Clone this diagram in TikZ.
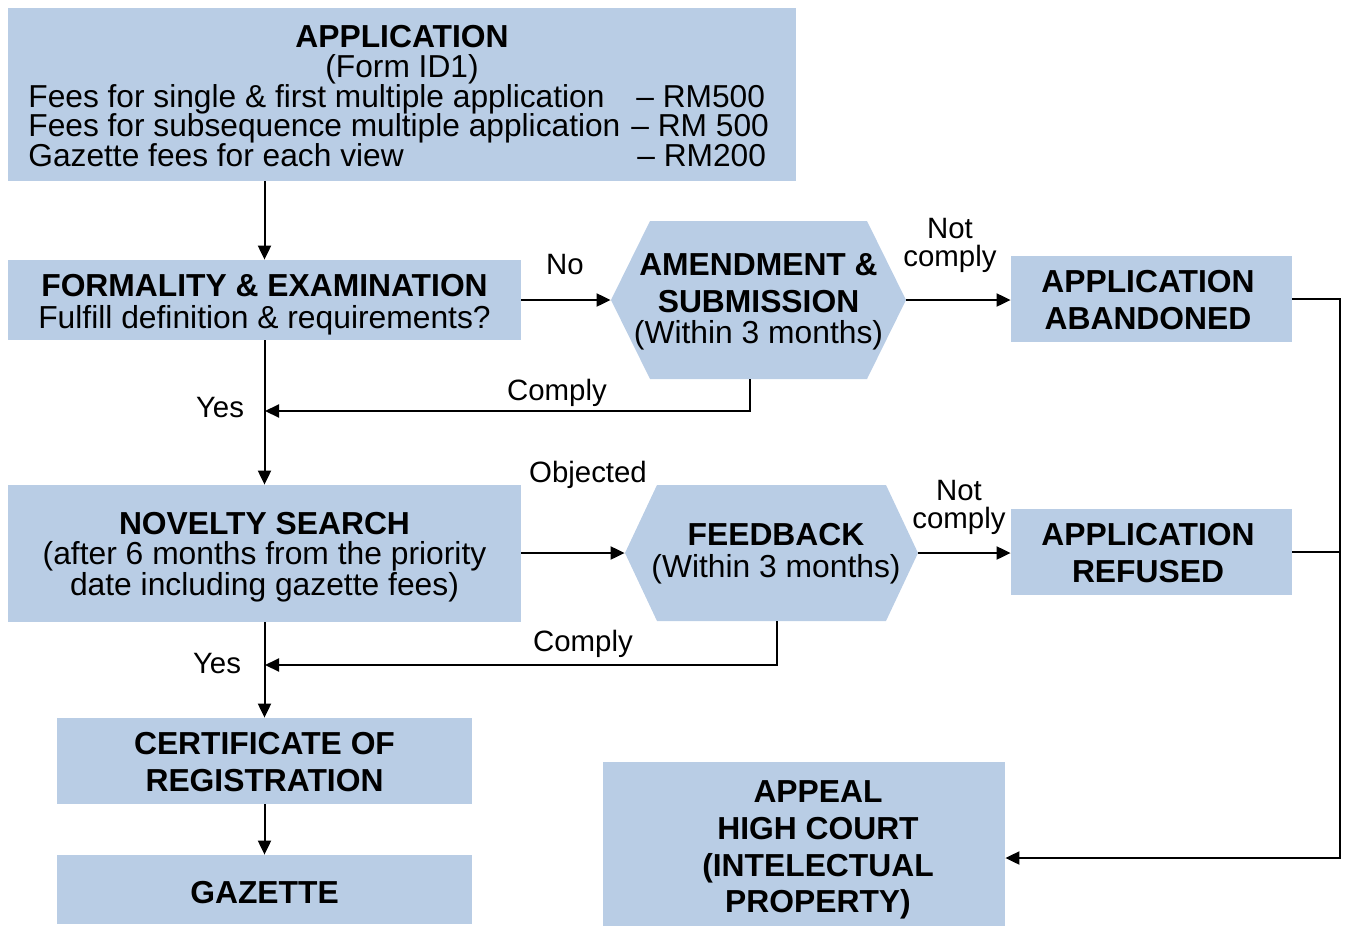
\documentclass[tikz,border=0pt]{standalone}
\usepackage{fontspec}
\setmainfont{Liberation Sans}
\usetikzlibrary{arrows.meta}
\definecolor{boxblue}{HTML}{B9CDE5}
\begin{document}
\begin{tikzpicture}[x=0.5pt,y=-0.5pt,
  box/.style={rectangle, fill=boxblue, inner sep=0pt, align=center},
  hexbox/.style={rectangle, inner sep=0pt, align=center,
    path picture={\fill[boxblue] (path picture bounding box.west)
      -- ([xshift=#1]path picture bounding box.north west)
      -- ([xshift=-#1]path picture bounding box.north east)
      -- (path picture bounding box.east)
      -- ([xshift=-#1]path picture bounding box.south east)
      -- ([xshift=#1]path picture bounding box.south west) -- cycle;}},
  txt/.style={inner sep=0pt, font=\fontsize{15.85pt}{15pt}\selectfont},
  mtxt/.style={inner sep=0pt, align=center, font=\fontsize{15.9pt}{#1}\selectfont},
  btxt/.style={inner sep=0pt, align=center, font=\fontsize{15.9pt}{#1}\selectfont\bfseries},
  lbl/.style={inner sep=0pt, align=center, font=\fontsize{14.7pt}{14pt}\selectfont},
  arr/.style={draw, line width=1pt, -{Triangle[length=7pt,width=6.5pt]}},
  ln/.style={draw, line width=1pt}
]
\useasboundingbox (0,0) rectangle (1346,927);

% APPLICATION box
\node[box, minimum width=394pt, minimum height=86.5pt] (app) at (402,94.5) {};
\node[txt, font=\fontsize{15.9pt}{15pt}\selectfont\bfseries, anchor=base] (appt) at (402,47) {APPLICATION};
\node[txt, anchor=base] (appf) at (402,77) {(Form ID1)};
\node[txt, anchor=base west] (fee1) at (28,107) {Fees for single \& first multiple application};
\node[txt, anchor=base west] (fee1r) at (636,107) {– RM500};
\node[txt, anchor=base west] (fee2) at (28,136) {Fees for subsequence multiple application};
\node[txt, anchor=base west] (fee2r) at (631,136) {– RM 500};
\node[txt, anchor=base west] (fee3) at (28,166) {Gazette fees for each view};
\node[txt, anchor=base west] (fee3r) at (637,166) {– RM200};

% FORMALITY
\node[box, minimum width=256.5pt, minimum height=40pt] (form) at (264.5,300) {};
\node[mtxt=16pt] (formt) at (264.5,305)
  {\textbf{FORMALITY \& EXAMINATION}\\Fulfill definition \& requirements?};

% AMENDMENT hexagon
\node[hexbox=19.5pt, minimum width=147.5pt, minimum height=79pt] (amend) at (758.5,300) {};
\node[mtxt=15.5pt] (amendt) at (758.5,302)
  {\textbf{AMENDMENT \&}\\[3pt]\textbf{SUBMISSION}\\(Within 3 months)};

% ABANDONED
\node[box, minimum width=140.5pt, minimum height=43pt] (aband) at (1151.5,299) {};
\node[btxt=18.5pt] (abandt) at (1148,300) {APPLICATION\\ABANDONED};

% NOVELTY
\node[box, minimum width=256.5pt, minimum height=68.5pt] (novel) at (264.5,553.5) {};
\node[mtxt=15.3pt] (novelt) at (264.5,557)
  {\textbf{NOVELTY SEARCH}\\(after 6 months from the priority\\date including gazette fees)};

% FEEDBACK hexagon
\node[hexbox=16pt, minimum width=146.5pt, minimum height=68pt] (feed) at (771.5,553) {};
\node[mtxt=16pt] (feedt) at (776,554) {\textbf{FEEDBACK}\\(Within 3 months)};

% REFUSED
\node[box, minimum width=140.5pt, minimum height=43pt] (refused) at (1151.5,552) {};
\node[btxt=18.5pt] (refusedt) at (1148,553) {APPLICATION\\REFUSED};

% CERTIFICATE
\node[box, minimum width=207.5pt, minimum height=43pt] (cert) at (264.5,761) {};
\node[btxt=18.5pt] (certt) at (264.5,762) {CERTIFICATE OF\\REGISTRATION};

% GAZETTE
\node[box, minimum width=207.5pt, minimum height=34.5pt] (gaz) at (264.5,889.5) {};
\node[btxt=18pt] (gazt) at (264.5,893) {GAZETTE};

% APPEAL
\node[box, minimum width=201pt, minimum height=82pt] (appeal) at (804,844) {};
\node[btxt=18.4pt] (appealt) at (818,850) {APPEAL\\HIGH COURT\\(INTELECTUAL\\PROPERTY)};

% junction coordinates
\coordinate (j1) at (265,411);
\coordinate (j2) at (265,665);
\coordinate (c1) at (1340,858);

% vertical chain
\draw[arr] (form.north |- app.south) -- (form.north);
\draw[arr] (form.south) -- (novel.north);
\draw[arr] (novel.south) -- (cert.north);
\draw[arr] (cert.south) -- (gaz.north);

% horizontal
\draw[arr] (form.east |- amend.west) -- (amend.west);
\draw[arr] (amend.east) -- (aband.west |- amend.east);
\draw[arr] (novel.east |- feed.west) -- (feed.west);
\draw[arr] (feed.east) -- (refused.west |- feed.east);

% comply loops
\draw[arr] ([xshift=-4.25pt]amend.south) |- (j1);
\draw[arr] ([xshift=2.75pt]feed.south) |- (j2);

% appeal path
\draw[arr] (aband.east) -| (c1) -- (appeal.east |- c1);
\draw[ln] (refused.east) -- (c1 |- refused.east);

% labels
\node[lbl] (lno) at (565,265) {No};
\node[lbl] (lnc1) at (950,245) {Not\\comply};
\node[lbl] (lc1) at (557,393) {Comply};
\node[lbl] (ly1) at (220,408) {Yes};
\node[lbl] (lobj) at (588,475) {Objected};
\node[lbl] (lnc2) at (959,507) {Not\\comply};
\node[lbl] (lc2) at (583,644) {Comply};
\node[lbl] (ly2) at (217,664) {Yes};
\end{tikzpicture}
\end{document}
